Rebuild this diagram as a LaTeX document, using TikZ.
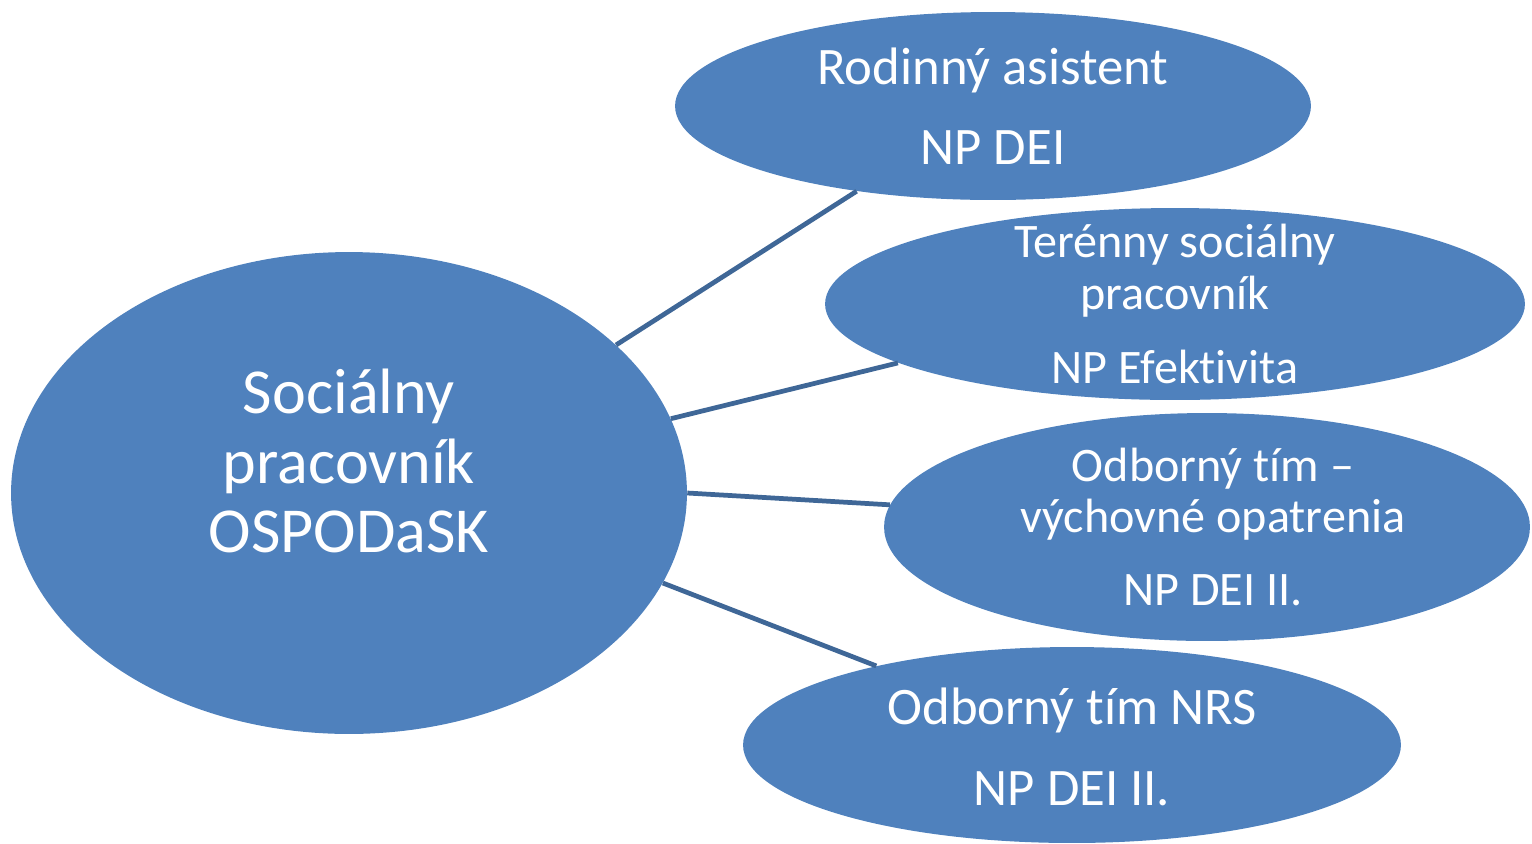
\documentclass[tikz,border=0pt]{standalone}
\usepackage{fontspec}
\setmainfont{Carlito}[Ligatures=CommonOff]
\usepackage{tikz}
\usetikzlibrary{shapes.geometric, positioning, calc}
\definecolor{OvalBlue}{HTML}{4F81BD}
\definecolor{LinkBlue}{HTML}{3F6797}

\begin{document}
\begin{tikzpicture}[
    x=0.02cm, y=-0.02cm,
    oval/.style={ellipse, fill=OvalBlue, draw=none, inner sep=0pt},
    ovaltext/.style={text=white, align=center, font=\fontsize{27.4}{29.5}\selectfont},
    widetext/.style={text=white, align=center, font=\fontsize{30}{36}\selectfont},
    bigtext/.style={text=white, align=center, font=\fontsize{36.5}{39.7}\selectfont},
    link/.style={draw=LinkBlue, line width=2.7pt}
]
    \useasboundingbox (0,0) rectangle (1532,843);

    % Central worker
    \node[oval, minimum width=13.52cm, minimum height=9.64cm] (social) at (349,493) {};
    \node[bigtext] (socialtxt) at (349,461) {Sociálny\\pracovník\\OSPODaSK};

    % Family assistant
    \node[oval, minimum width=12.72cm, minimum height=3.76cm] (family) at (993,106) {};
    \node[widetext] (familytxt) at (993,106) {Rodinný asistent\\[9.4pt]NP DEI};

    % Field social worker
    \node[oval, minimum width=14cm, minimum height=3.84cm] (field) at (1175,304) {};
    \node[ovaltext] (fieldtxt) at (1175,304) {Terénny sociálny\\pracovník\\[12.5pt]NP Efektivita};

    % Expert team - educational measures
    \node[oval, minimum width=12.92cm, minimum height=4.56cm] (educ) at (1207,527) {};
    \node[ovaltext] (eductxt) at (1213,527) {Odborný tím --\\výchovné opatrenia\\[12pt]NP DEI II.};

    % Expert team NRS
    \node[oval, minimum width=13.16cm, minimum height=3.92cm] (nrs) at (1072,745) {};
    \node[widetext] (nrstxt) at (1072,747) {Odborný tím NRS\\[10.5pt]NP DEI II.};

    % Links
    \draw[link] (social.29.7) -- (family.212.5);
    \draw[link] (social.13.6) -- (field.192.8);
    \draw[link] (social.0) -- (educ.176.5);
    \draw[link] (social.-16) -- (nrs.158.5);
\end{tikzpicture}
\end{document}
